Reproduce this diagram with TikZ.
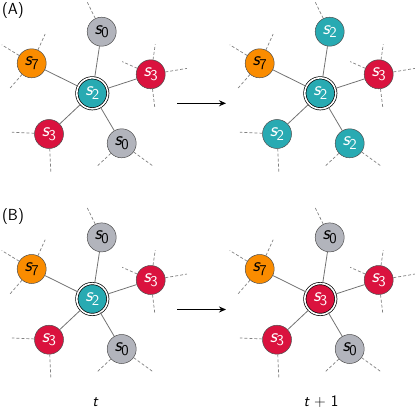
\documentclass[tikz,border=0pt]{standalone}
\usepackage{tikz}
\usetikzlibrary{arrows.meta}
\definecolor{fill0}{RGB}{178,180,188}
\definecolor{fill2}{RGB}{40,170,178}
\definecolor{fill3}{RGB}{218,18,62}
\definecolor{fill7}{RGB}{250,140,0}
\definecolor{txt0}{RGB}{0,0,0}
\definecolor{txt2}{RGB}{255,255,255}
\definecolor{txt3}{RGB}{255,255,255}
\definecolor{txt7}{RGB}{0,0,0}
\tikzset{
  state/.style={circle, draw=black!70, line width=0.5pt, fill=fill#1, text=txt#1,
    minimum size=29pt, inner sep=0pt, font=\sffamily},
  hub/.style={draw=black, double=white, double distance=1.6pt, line width=0.7pt,
    minimum size=31pt},
  link/.style={draw=black!55, line width=0.8pt},
  stub/.style={draw=black!50, line width=0.7pt, dash pattern=on 3pt off 2pt},
  panel/.style={font=\sffamily\fontsize{16}{16}\selectfont}
}
% state label s_k
\newcommand{\sv}[1]{{\fontsize{20}{20}\selectfont\itshape s}\kern-0.5pt\raisebox{-3.5pt}{\fontsize{15}{15}\selectfont #1}}
% one site with its five neighbours
\newcommand{\statestar}[7]{%
  \begin{scope}[shift={(#2)}]
    \node[state=#3, hub] (#1c) at (0,0) {\sv{#3}};
    \node[state=#4] (#1t) at (9.4,-61.6) {\sv{#4}};
    \node[state=7] (#1l) at (-60.6,-30) {\sv{7}};
    \node[state=#5] (#1r) at (58.4,-19) {\sv{#5}};
    \node[state=#6] (#1bl) at (-43.3,40.7) {\sv{#6}};
    \node[state=#7] (#1br) at (29.4,50) {\sv{#7}};
    \foreach \n in {t,l,r,bl,br}
      \draw[link] (#1c) -- (#1\n);
    \foreach \a/\len in {116/18}
      \draw[stub] (#1t.\a) -- ++(\a:\len pt);
    \foreach \a/\len in {148.6/20.5, 65.6/17.5, 229/19.5}
      \draw[stub] (#1l.\a) -- ++(\a:\len pt);
    \foreach \a/\len in {81.6/15.5, 156/16.5, 9.5/22, -83/19.5}
      \draw[stub] (#1r.\a) -- ++(\a:\len pt);
    \foreach \a/\len in {177.5/22.5, -87.5/23}
      \draw[stub] (#1bl.\a) -- ++(\a:\len pt);
    \foreach \a/\len in {223/19.5, -36/23.5}
      \draw[stub] (#1br.\a) -- ++(\a:\len pt);
  \end{scope}}

\begin{document}
\begin{tikzpicture}[x=1pt, y=-1pt]
  \useasboundingbox (0,0) rectangle (415,412);
  % (A)
  \node[panel] (labA) at (13,11) {(A)};
  \statestar{ap}{92.3,93.3}{2}{0}{3}{3}{0}
  \statestar{aq}{320.3,93.3}{2}{2}{3}{2}{2}
  \coordinate (arrA0) at (177,103.3);
  \coordinate (arrA1) at (226,103.3);
  \draw[line width=1.1pt, -{Stealth[length=7pt, width=6pt]}] (arrA0) -- (arrA1);
  % (B)
  \node[panel] (labB) at (13,216.5) {(B)};
  \statestar{bp}{92.3,299}{2}{0}{3}{3}{0}
  \statestar{bq}{320.3,299}{3}{0}{3}{3}{0}
  \coordinate (arrB0) at (177,309.5);
  \coordinate (arrB1) at (226,309.5);
  \draw[line width=1.1pt, -{Stealth[length=7pt, width=6pt]}] (arrB0) -- (arrB1);
  %
  \node[panel] (tnow) at (95,402) {\itshape t};
  \node[panel] (tnext) at (321,402) {{\itshape t} + 1};
\end{tikzpicture}
\end{document}
